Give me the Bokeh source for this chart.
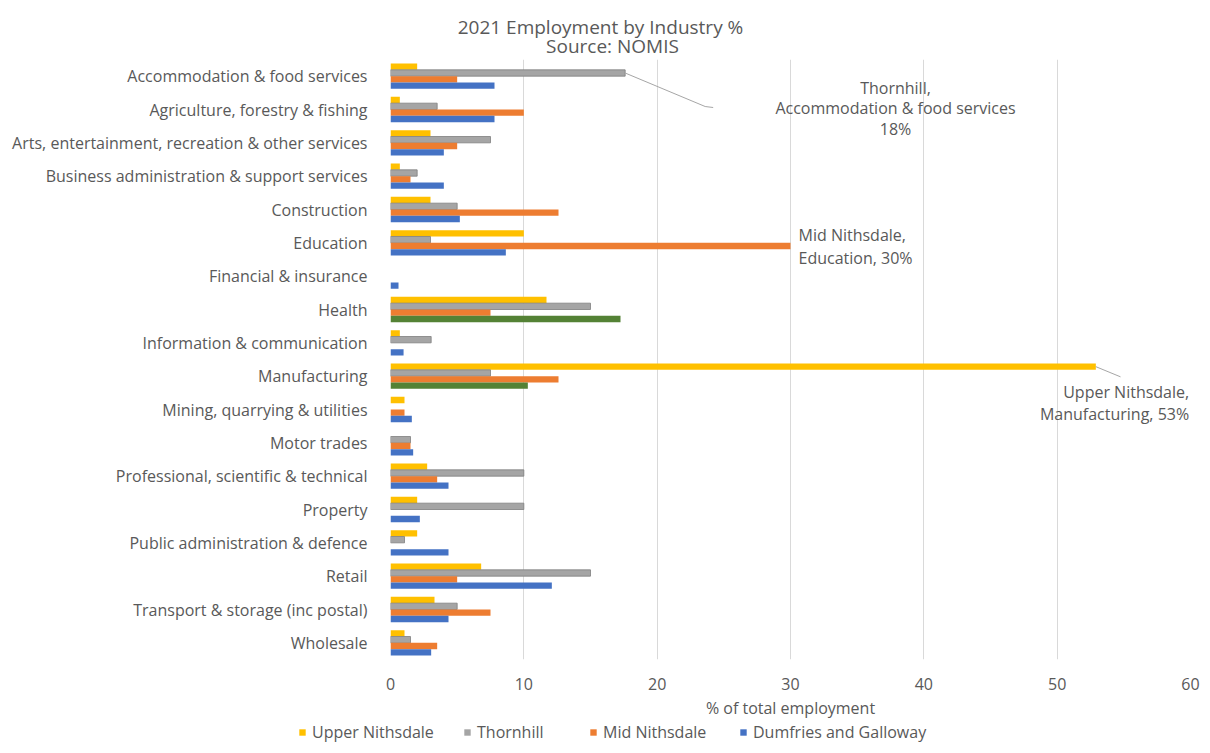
from bokeh.plotting import figure
from bokeh.models import (ColumnDataSource, FactorRange, Range1d, Label, Legend,
                          LegendItem, FixedTicker)
from bokeh.layouts import column
from bokeh.transform import dodge
from bokeh.embed import file_html
from bokeh.resources import INLINE

categories = [
    "Accommodation & food services",
    "Agriculture, forestry & fishing",
    "Arts, entertainment, recreation & other services",
    "Business administration & support services",
    "Construction",
    "Education",
    "Financial & insurance",
    "Health",
    "Information & communication",
    "Manufacturing",
    "Mining, quarrying & utilities",
    "Motor trades",
    "Professional, scientific & technical",
    "Property",
    "Public administration & defence",
    "Retail",
    "Transport & storage (inc postal)",
    "Wholesale",
]
upper_nithsdale = [2.0, 0.7, 3.0, 0.7, 3.0, 10.0, 0, 11.7, 0.7, 52.9, 1.05, 0, 2.75, 2.0, 2.0, 6.8, 3.3, 1.05]
thornhill = [17.6, 3.5, 7.5, 2.0, 5.0, 3.0, 0, 15.0, 3.05, 7.5, 0, 1.5, 10.0, 10.0, 1.05, 15.0, 5.0, 1.5]
mid_nithsdale = [5.0, 10.0, 5.0, 1.5, 12.6, 30.0, 0, 7.5, 0, 12.6, 1.05, 1.5, 3.5, 0, 0, 5.0, 7.5, 3.5]
dumfries_galloway = [7.8, 7.8, 4.0, 4.0, 5.2, 8.65, 0.6, 17.25, 0.98, 10.3, 1.6, 1.7, 4.35, 2.2, 4.35, 12.1, 4.35, 3.05]
dg_highlighted = ["Health", "Manufacturing"]
series_names = ["Upper Nithsdale", "Thornhill", "Mid Nithsdale", "Dumfries and Galloway"]
x_ticks = [0, 10, 20, 30, 40, 50, 60]
title_lines = ["2021 Employment by Industry %", "Source: NOMIS"]

TXT = "#595959"
FONT = "Open Sans"
colors = ["#FFC000", "#A5A5A5", "#ED7D31", "#4472C4"]
gray_edge = "#7F7F7F"
green = "#548235"

dg_colors = [green if c in dg_highlighted else colors[3] for c in categories]
th_edges = [gray_edge if v > 0 else None for v in thornhill]
src = ColumnDataSource(dict(cat=categories, un=upper_nithsdale, th=thornhill,
                            mn=mid_nithsdale, dg=dumfries_galloway, dgc=dg_colors,
                            the=th_edges))

W, H0, H1, H2 = 1210, 59, 662, 32

# title strip
p0 = figure(width=W, height=H0, output_backend="svg", toolbar_location=None,
            x_range=Range1d(0, W), y_range=Range1d(0, H0),
            x_axis_location=None, y_axis_location=None,
            min_border_left=0, min_border_right=0, min_border_top=0, min_border_bottom=0)
p0.outline_line_color = None
p0.grid.visible = False
p0.frame_align = False
p0.add_layout(Label(x=600, y=H0 - 26, text=title_lines[0], text_align="center",
                    text_baseline="middle", text_font=FONT, text_font_size="19px",
                    text_color=TXT))
p0.add_layout(Label(x=612, y=13.5, text=title_lines[1], text_align="center",
                    text_baseline="middle", text_font=FONT, text_font_size="19px",
                    text_color=TXT))

# main chart
p = figure(width=W, height=H1, output_backend="svg", toolbar_location=None,
           y_range=FactorRange(factors=list(reversed(categories))),
           x_range=Range1d(0, 60), title=None,
           min_border_left=390, min_border_right=20, min_border_top=0, min_border_bottom=61)
p.outline_line_color = None
p.frame_align = False

bh = 0.19
offsets = [1.5 * bh, 0.5 * bh, -0.5 * bh, -1.5 * bh]
fields = ["un", "th", "mn", "dg"]
for i, f in enumerate(fields):
    fill = "dgc" if f == "dg" else colors[i]
    edge = "the" if f == "th" else None
    p.hbar(y=dodge("cat", offsets[i], range=p.y_range), right=f, left=0, height=bh,
           source=src, fill_color=fill, line_color=edge, line_width=0.8)

p.xaxis.ticker = FixedTicker(ticks=x_ticks)
p.xaxis.axis_line_color = None
p.xaxis.major_tick_line_color = None
p.xaxis.minor_tick_line_color = None
p.xaxis.major_label_standoff = 12
p.xaxis.major_label_text_font = FONT
p.xaxis.major_label_text_font_size = "16px"
p.xaxis.major_label_text_color = TXT
p.xaxis.axis_label = "% of total employment"
p.xaxis.axis_label_text_font = FONT
p.xaxis.axis_label_text_font_size = "16px"
p.xaxis.axis_label_text_font_style = "normal"
p.xaxis.axis_label_text_color = TXT
p.xaxis.axis_label_standoff = 4

p.yaxis.axis_line_color = None
p.yaxis.major_tick_line_color = None
p.yaxis.minor_tick_line_color = None
p.yaxis.major_label_standoff = 17
p.yaxis.major_label_text_font = FONT
p.yaxis.major_label_text_font_size = "16px"
p.yaxis.major_label_text_color = TXT

p.xgrid.grid_line_color = "#D9D9D9"
p.ygrid.grid_line_color = None

n = len(categories)
def yc(cat, k):
    return n - categories.index(cat) - 0.5 + offsets[k]

def lab(x, y, t, align):
    p.add_layout(Label(x=x, y=y, text=t, text_align=align, text_baseline="middle",
                       text_font=FONT, text_font_size="16px", text_color=TXT))

ia = categories.index("Accommodation & food services")
lab(37.875, 17.16, "Thornhill,", "center")
lab(37.875, 16.56, categories[ia], "center")
lab(37.875, 15.93, f"{thornhill[ia]:.0f}%", "center")
p.line(x=[thornhill[ia], 23.6, 24.2], y=[yc(categories[ia], 1), 16.59, 16.56],
       line_color="#A6A6A6", line_width=1)

ie = categories.index("Education")
lab(30.6, 12.73, "Mid Nithsdale,", "left")
lab(30.6, 12.04, f"{categories[ie]}, {mid_nithsdale[ie]:.0f}%", "left")

im = categories.index("Manufacturing")
lab(59.9, 8.03, "Upper Nithsdale,", "right")
lab(59.9, 7.37, f"{categories[im]}, {upper_nithsdale[im]:.0f}%", "right")
p.line(x=[upper_nithsdale[im], 54.75], y=[yc(categories[im], 0), 8.48],
       line_color="#A6A6A6", line_width=1)

# legend strip
p2 = figure(width=W, height=H2, output_backend="svg", toolbar_location=None,
            x_range=Range1d(0, 1), y_range=Range1d(0, 1),
            x_axis_location=None, y_axis_location=None,
            min_border_left=0, min_border_right=0, min_border_top=0, min_border_bottom=0)
p2.outline_line_color = None
p2.grid.visible = False
p2.frame_align = False
leg_x = [298, 463, 589, 739]
swatch_src = ColumnDataSource(dict(y=[-5.0], right=[1.0]))  # off-screen, only feeds the legend swatch
for i, nm in enumerate(series_names):
    r = p2.hbar(y="y", right="right", left=0, height=0.1, source=swatch_src,
                fill_color=colors[i], line_color=None)
    lg = Legend(items=[LegendItem(label=nm, renderers=[r])], location=(leg_x[i], 10),
                orientation="horizontal", padding=0, margin=0, border_line_color=None,
                background_fill_alpha=0, glyph_width=8, glyph_height=8, label_standoff=6,
                label_text_font=FONT, label_text_font_size="16px", label_text_color=TXT)
    p2.add_layout(lg, "center")

layout = column(p0, p, p2, spacing=0)
open("out.html", "w").write(file_html(layout, INLINE))
